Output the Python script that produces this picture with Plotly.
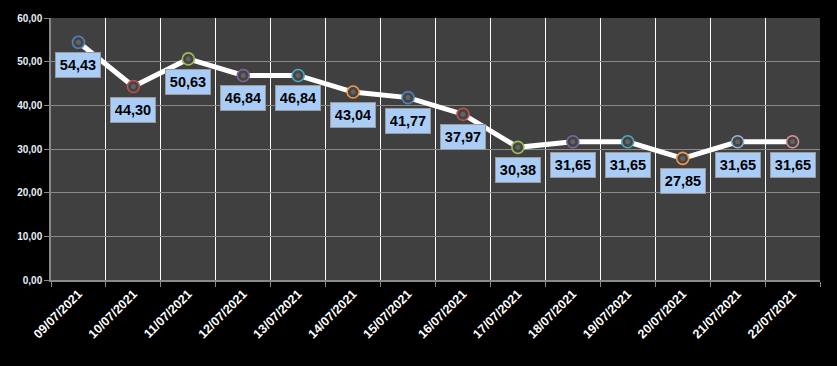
import plotly.graph_objects as go

dates = ["09/07/2021", "10/07/2021", "11/07/2021", "12/07/2021", "13/07/2021",
         "14/07/2021", "15/07/2021", "16/07/2021", "17/07/2021", "18/07/2021",
         "19/07/2021", "20/07/2021", "21/07/2021", "22/07/2021"]
values = [54.43, 44.30, 50.63, 46.84, 46.84, 43.04, 41.77, 37.97, 30.38,
          31.65, 31.65, 27.85, 31.65, 31.65]
marker_colors = ["#4F81BD", "#C0504D", "#9BBB59", "#8064A2", "#4BACC6", "#F79646",
                 "#4F81BD", "#C0504D", "#9BBB59", "#8064A2", "#4BACC6", "#F79646",
                 "#95B3D7", "#D99694"]

fig = go.Figure()
fig.add_trace(go.Scatter(
    x=dates, y=values, mode="lines",
    line=dict(color="white", width=5),
    hoverinfo="skip", showlegend=False,
))
fig.add_trace(go.Scatter(
    x=dates, y=values, mode="markers",
    marker=dict(size=12, color="#444444",
                line=dict(color=marker_colors, width=1.6)),
    showlegend=False,
))
fig.add_trace(go.Scatter(
    x=dates, y=values, mode="markers",
    marker=dict(size=5, color="rgba(120,120,120,0.6)", line=dict(width=0)),
    hoverinfo="skip", showlegend=False,
))

for d, v in zip(dates, values):
    fig.add_annotation(
        x=d, y=v, text=f"<b>{v:.2f}</b>".replace(".", ","),
        showarrow=False, yshift=-23,
        font=dict(family="Liberation Sans", size=14.5, color="black"),
        bgcolor="#a9cdf6", bordercolor="#9a9a9a", borderwidth=1,
        borderpad=4, width=36,
    )

fig.update_layout(
    width=837, height=366,
    paper_bgcolor="black", plot_bgcolor="#404040",
    margin=dict(l=51, r=17, t=15, b=86),
    separators=",.",
    font=dict(family="Liberation Sans"),
)
fig.update_xaxes(
    type="category", tickson="boundaries",
    showgrid=True, gridcolor="white", gridwidth=1,
    ticks="outside", ticklen=5, tickcolor="#8a8a8a",
    showline=True, linecolor="#8a8a8a", linewidth=1.5,
    tickangle=-45,
    tickfont=dict(family="Liberation Sans", size=12.5, color="white", weight="bold"),
    range=[-0.5, 13.5],
)
fig.update_yaxes(
    range=[0, 60], dtick=10, tickformat=".2f",
    showgrid=True, gridcolor="#8a8a8a", gridwidth=1,
    ticks="outside", ticklen=5, tickcolor="#8a8a8a",
    showline=True, linecolor="#8a8a8a", linewidth=1.5,
    zeroline=False,
    tickfont=dict(family="Liberation Sans", size=10, color="#e6eefa", weight="bold"),
)

fig.write_html(
    "out.html",
    config={"displayModeBar": False},
    post_script="document.body.style.margin='0';document.body.style.background='black';",
)
